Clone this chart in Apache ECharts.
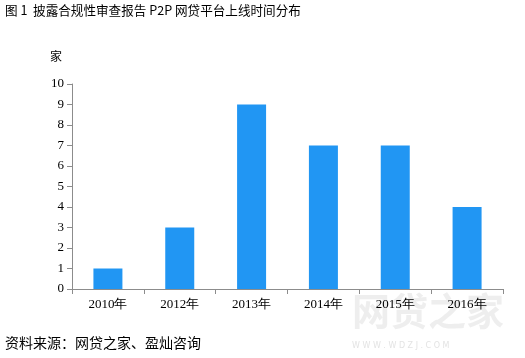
<!DOCTYPE html>
<html><head><meta charset="utf-8">
<script src="https://cdn.jsdelivr.net/npm/echarts@6/dist/echarts.min.js"></script>
<style>html,body{margin:0;padding:0;background:#fff}#c{width:525px;height:358px}</style>
</head><body><div id="c"></div>
<script>
var categories = ['2010年','2012年','2013年','2014年','2015年','2016年'];
var values = [1, 3, 9, 7, 7, 4];
var yTicks = [0,1,2,3,4,5,6,7,8,9,10];

var chart = echarts.init(document.getElementById('c'), null, {renderer:'canvas'});
chart.setOption({
  animation:false,
  backgroundColor:'#fff',
  grid:{left:72, right:22, top:84, bottom:69},
  xAxis:{type:'category', data:categories,
    axisLine:{lineStyle:{color:'#8c8c8c'}},
    axisTick:{show:true, length:5, lineStyle:{color:'#8c8c8c'}},
    axisLabel:{color:'#000', fontFamily:'Liberation Serif, serif', fontSize:13, margin:9}},
  yAxis:{type:'value', min:0, max:10, interval:1,
    splitLine:{show:false},
    axisLine:{show:true, lineStyle:{color:'#8c8c8c'}},
    axisTick:{show:true, length:5, lineStyle:{color:'#8c8c8c'}},
    axisLabel:{color:'#000', fontFamily:'Liberation Serif, serif', fontSize:13, margin:8,
      formatter:function(v){return yTicks.indexOf(v)>=0?String(v):'';}}},
  series:[{type:'bar', data:values, barWidth:29, itemStyle:{color:'#2196f3'}}],
  graphic:[
    {type:'text', left:5, top:4, style:{text:'图 1  披露合规性审查报告 P2P 网贷平台上线时间分布', fill:'#000', font:'12.6px "Noto Sans CJK SC", sans-serif'}},
    {type:'text', left:50, top:50, style:{text:'家', fill:'#000', font:'12px "Noto Sans CJK SC", sans-serif'}},
    {type:'text', left:5, top:336, style:{text:'资料来源：网贷之家、盈灿咨询', fill:'#000', font:'14px "Noto Sans CJK SC", sans-serif'}},
    {type:'text', left:352, top:292, z:-1, style:{text:'网贷之家', fill:'rgba(200,200,200,0.3)', font:'bold 38px "Noto Sans CJK SC", sans-serif'}},
    {type:'text', left:352, top:342, z:-1, style:{text:'W W W . W D Z J . C O M', fill:'rgba(200,200,200,0.5)', font:'8px "DejaVu Sans", sans-serif'}}
  ]
});
</script></body></html>
